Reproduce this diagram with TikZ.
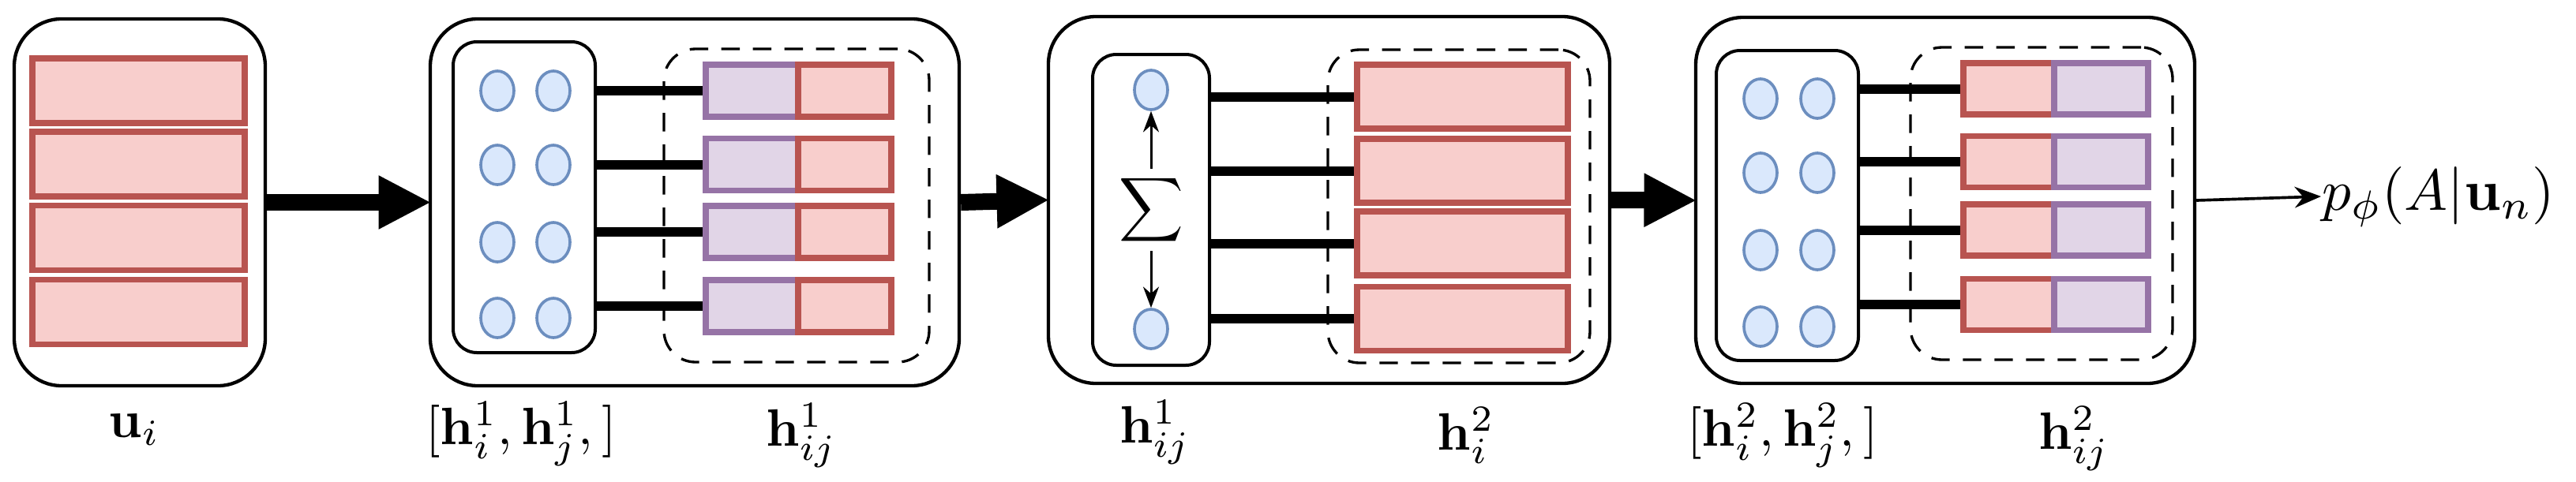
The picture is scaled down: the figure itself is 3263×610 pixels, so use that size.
\documentclass[tikz,border=0pt]{standalone}
\usepackage{amsmath}
\usetikzlibrary{arrows.meta,shapes.geometric}
\definecolor{rfill}{HTML}{F8CECC}\definecolor{rdraw}{HTML}{B85450}
\definecolor{pfill}{HTML}{E1D5E7}\definecolor{pdraw}{HTML}{9673A6}
\definecolor{cfill}{HTML}{DAE8FC}\definecolor{cdraw}{HTML}{6C8EBF}
\tikzset{
 big/.style={draw=black,line width=1.3pt,rounded corners=18pt,inner sep=0pt},
 inner/.style={draw=black,line width=1.2pt,rounded corners=9pt,inner sep=0pt},
 dbox/.style={draw=black,line width=1pt,dash pattern=on 7pt off 5pt,rounded corners=12pt,inner sep=0pt},
 rbar/.style={draw=rdraw,fill=rfill,line width=2.2pt,inner sep=0pt},
 pbar/.style={draw=pdraw,fill=pfill,line width=2.2pt,inner sep=0pt},
 circ/.style={ellipse,draw=cdraw,fill=cfill,line width=1.1pt,minimum width=12.6pt,minimum height=15pt,inner sep=0pt},
 link/.style={line width=3.6pt},
 fat/.style={line width=6.3pt,-{Triangle[length=20pt,width=19pt]},shorten >=-1pt},
 thin/.style={line width=0.9pt,-{Stealth[length=8pt,width=6pt]}},
 lab/.style={scale=2,inner sep=0pt}
}
\begin{document}
\begin{tikzpicture}[x=0.3pt,y=-0.3pt]
\useasboundingbox (0,0) rectangle (3263,610);
% box 1
\node[big,minimum width=95.4pt,minimum height=139.5pt] (b1) at (177,256.5) {};
\foreach \y [count=\k] in {115,208,301.5,395.5}
  \node[rbar,minimum width=80.7pt,minimum height=24.6pt] (u\k) at (175.5,\y) {};
\node[lab] (lu) at (170,545) {$\mathbf{u}_i$};
% box 2
\node[big,minimum width=201pt,minimum height=139.5pt] (b2) at (880,256.5) {};
\node[inner,minimum width=54pt,minimum height=118.2pt] (i2) at (664,250) {};
\foreach \y [count=\k] in {115,209,307,403}{
  \node[circ] (c2a\k) at (630,\y) {};
  \node[circ] (c2b\k) at (701,\y) {};}
\node[dbox,minimum width=100.8pt,minimum height=119.1pt] (d2) at (1009,260.5) {};
\foreach \y [count=\k] in {115,208.5,294,388}{
  \node[pbar,minimum width=35.1pt,minimum height=19.8pt] (p2\k) at (952.5,\y) {};
  \node[rbar,minimum width=35.4pt,minimum height=19.8pt] (r2\k) at (1070,\y) {};
  \draw[link] (p2\k.west -| i2.east) -- (p2\k.west);}
\node[lab] (l2a) at (660,550) {$[\mathbf{h}_i^1,\mathbf{h}_j^1,]$};
\node[lab] (l2b) at (1015,552) {$\mathbf{h}_{ij}^1$};
% box 3
\node[big,minimum width=213.3pt,minimum height=139.5pt] (b3) at (1683.5,253.5) {};
\node[inner,minimum width=44.4pt,minimum height=118.2pt] (i3) at (1458,266) {};
\node[circ] (c3t) at (1458,114) {};
\node[circ] (c3b) at (1458,417) {};
\node[inner sep=1pt,scale=1.7] (sig) at (1458,266) {$\displaystyle\sum$};
\draw[thin] (sig.north) -- (c3t.south);
\draw[thin] (sig.south) -- (c3b.north);
\node[dbox,minimum width=99.6pt,minimum height=119.1pt] (d3) at (1848,261.5) {};
\foreach \y [count=\k] in {122.5,216.5,308.5,404}{
  \node[rbar,minimum width=80.1pt,minimum height=24.3pt] (r3\k) at (1852.5,\y) {};
  \draw[link] (r3\k.west -| i3.east) -- (r3\k.west);}
\node[lab] (l3a) at (1463,548) {$\mathbf{h}_{ij}^1$};
\node[lab] (l3b) at (1857,552) {$\mathbf{h}_i^2$};
% box 4
\node[big,minimum width=189.6pt,minimum height=139.2pt] (b4) at (2464,254) {};
\node[inner,minimum width=54pt,minimum height=117.9pt] (i4) at (2264,260.5) {};
\foreach \y [count=\k] in {125,219,317,414}{
  \node[circ] (c4a\k) at (2230,\y) {};
  \node[circ] (c4b\k) at (2302,\y) {};}
\node[dbox,minimum width=99.6pt,minimum height=118.8pt] (d4) at (2586,258) {};
\foreach \y [count=\k] in {112.5,205,291.5,386}{
  \node[rbar,minimum width=34.5pt,minimum height=19.5pt] (r4\k) at (2544.5,\y) {};
  \node[pbar,minimum width=35.7pt,minimum height=19.5pt] (p4\k) at (2661.5,\y) {};
  \draw[link] (r4\k.west -| i4.east) -- (r4\k.west);}
\node[lab] (l4a) at (2258,552) {$[\mathbf{h}_i^2,\mathbf{h}_j^2,]$};
\node[lab] (l4b) at (2627,556) {$\mathbf{h}_{ij}^2$};
% output
\node[scale=2.2,inner sep=0pt,anchor=west] (out) at (2940,249) {$p_\phi(A|\mathbf{u}_n)$};
\draw[line width=1.1pt,-{Stealth[length=10pt,width=8pt]}] (b4.east) -- (out.west);
% big arrows
\draw[fat] (b1.east) -- (b2.west);
\draw[fat] (b2.east) -- (b3.west);
\draw[fat] (b3.east) -- (b4.west);
\end{tikzpicture}
\end{document}
